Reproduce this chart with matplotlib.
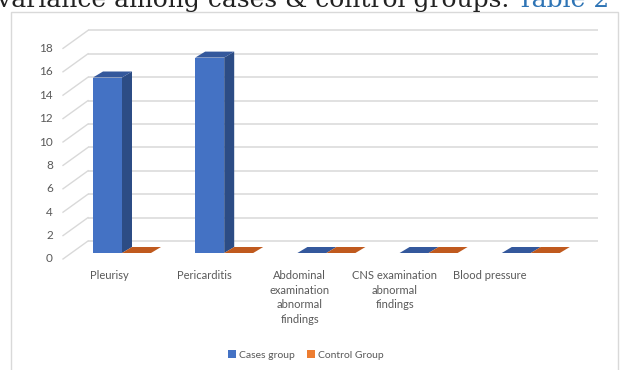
import matplotlib
matplotlib.use("Agg")
import matplotlib.pyplot as plt
from matplotlib.patches import Rectangle, Polygon, Patch

plt.rcParams["font.family"] = ["Lato", "DejaVu Sans"]

# ── data ──────────────────────────────────────────────
categories = ["Pleurisy", "Pericarditis",
              "Abdominal\nexamination\nabnormal\nfindings",
              "CNS examination\nabnormal\nfindings",
              "Blood pressure"]
cases   = [15, 16.7, 0, 0, 0]
control = [0, 0, 0, 0, 0]
yticks  = list(range(0, 19, 2))
series_names = ["Cases group", "Control Group"]

# ── layout (pixels of a 630x370 canvas) ─────────────────
W, H = 630, 370
PX_CAT, PX_VAL = 102.2, 11.7     # px per category step / per unit
X0_PX, Y0_PX = 122, 253           # category 0 boundary, value 0 (front of bars)

def dx(px):
    return px / PX_CAT

def dy(px):
    return px / PX_VAL

BAR_W = dx(29)
DEPTH_X, DEPTH_Y = dx(10), dy(6)          # bar depth
WALL_X0, WALL_X1 = dx(88 - X0_PX), dx(598 - X0_PX)
WALL_DY = dy(12)                           # back wall above bar front plane
FRONT_X, FRONT_DY = dx(63 - X0_PX), -dy(6)  # front edge of the side wall

BLUE, BLUE_SIDE, BLUE_TOP = "#4472C4", "#2C4C85", "#34589C"
ORANGE, ORANGE_TOP = "#ED7D31", "#C05A1E"
GRID = "#d9d9d9"
TEXT = "#595959"

fig = plt.figure(figsize=(W / 100, H / 100), dpi=100)
ax = fig.add_axes([0, 0, 1, 1])
ax.set_xlim(-X0_PX / PX_CAT, (W - X0_PX) / PX_CAT)
ax.set_ylim(-(H - Y0_PX) / PX_VAL, Y0_PX / PX_VAL)
ax.axis("off")

# chart frame
fig.patches.append(Rectangle((11 / W, -0.05), 607 / W, 1.05 - 12 / H,
                             transform=fig.transFigure, fill=False,
                             edgecolor=GRID, lw=1.0))

# heading line above the chart (cut off by the page edge)
t1 = fig.text(-3 / W, 1 - 7 / H, "variance among cases & control groups. ",
              family=["DejaVu Serif"], fontsize=18, color="#222222",
              va="baseline", ha="left")
fig.canvas.draw()
bb = t1.get_window_extent()
fig.text(bb.x1 / W, 1 - 7 / H, "Table 2", family=["DejaVu Serif"],
         fontsize=18, color="#2E74B5", va="baseline", ha="left")

# back wall gridlines + side wall diagonals + y labels
for v in yticks:
    ax.plot([WALL_X0, WALL_X1], [v + WALL_DY, v + WALL_DY], color=GRID, lw=1.1,
            solid_capstyle="butt", zorder=1)
    ax.plot([FRONT_X, WALL_X0], [v + FRONT_DY, v + WALL_DY], color=GRID, lw=1.0,
            zorder=1)
    ax.text(dx(53 - X0_PX), v + FRONT_DY, str(v), ha="right", va="center",
            fontsize=8.5, color=TEXT)

def bar3d(x0, h, front, side, top):
    if h > 0:
        ax.add_patch(Rectangle((x0, 0), BAR_W, h, facecolor=front,
                               edgecolor="none", zorder=3))
        ax.add_patch(Polygon([(x0 + BAR_W, 0), (x0 + BAR_W + DEPTH_X, DEPTH_Y),
                              (x0 + BAR_W + DEPTH_X, h + DEPTH_Y), (x0 + BAR_W, h)],
                             facecolor=side, edgecolor="none", zorder=3))
    ax.add_patch(Polygon([(x0, h), (x0 + DEPTH_X, h + DEPTH_Y),
                          (x0 + BAR_W + DEPTH_X, h + DEPTH_Y), (x0 + BAR_W, h)],
                         facecolor=top, edgecolor="none", zorder=4))

for i, (c, k) in enumerate(zip(cases, control)):
    bar3d(i - BAR_W, c, BLUE, BLUE_SIDE, BLUE_TOP)
    bar3d(i, k, ORANGE, ORANGE_TOP, ORANGE_TOP)

# category labels along the front edge of the floor
for i, lab in enumerate(categories):
    xc = dx(109 + 95.3 * i - X0_PX)
    ax.text(xc, -dy(270 - Y0_PX), lab, ha="center", va="top", fontsize=8,
            color=TEXT, linespacing=1.4)

handles = [Patch(facecolor=BLUE), Patch(facecolor=ORANGE)]
ax.legend(handles, series_names, loc="center", ncol=2, frameon=False,
          bbox_to_anchor=(306 / W, 1 - 355 / H), bbox_transform=fig.transFigure,
          fontsize=7.5, labelcolor=TEXT, handlelength=0.75, handleheight=0.75,
          handletextpad=0.3, columnspacing=1.2)

fig.savefig("out.png", dpi=100)
